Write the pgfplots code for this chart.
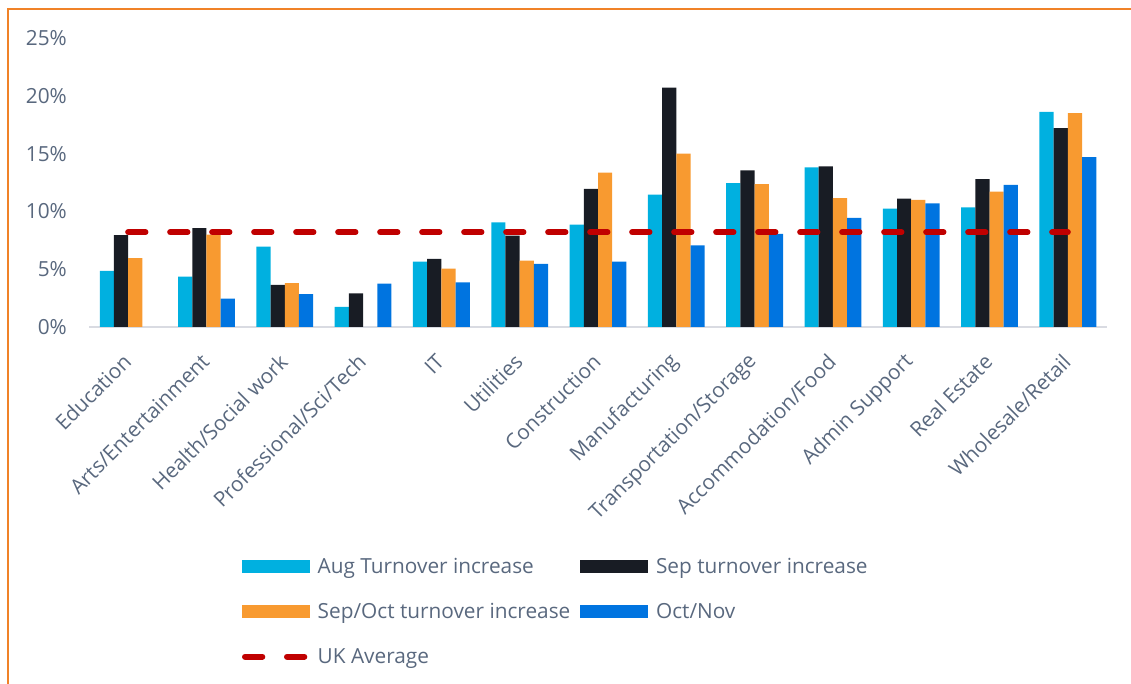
\documentclass[border=0pt]{standalone}
\usepackage{pgfplots}
\pgfplotsset{compat=1.18}
\usepackage{fontspec}
\setmainfont{Open Sans}
\definecolor{cAug}{RGB}{0,176,224}
\definecolor{cSep}{RGB}{24,28,36}
\definecolor{cSepOct}{RGB}{248,154,48}
\definecolor{cOctNov}{RGB}{0,116,224}
\definecolor{cUK}{RGB}{192,0,0}
\definecolor{txt}{RGB}{89,104,126}
\definecolor{framec}{RGB}{240,130,40}
\definecolor{axisgray}{RGB}{217,219,226}
\pgfplotsset{
 swatch/.style={legend image code/.code={\fill[##1] (0pt,-6.5pt) rectangle (68pt,6.5pt);}},
 ukline/.style={legend image code/.code={\draw[##1] (3pt,0pt) -- (63pt,0pt);}},
}
\begin{document}
\begin{tikzpicture}[font=\fontsize{20.8}{25}\selectfont]
\useasboundingbox (0,0) rectangle (1131pt,684pt);
\draw[framec, line width=2pt] (8.3pt,-2pt) -- (8.3pt,675.3pt) -- (1131pt,675.3pt);
\begin{axis}[
 scale only axis, width=1018pt, height=289pt,
 at={(89pt,357pt)}, anchor=south west,
 xmin=-0.5, xmax=12.5, ymin=0, ymax=25,
 axis x line*=bottom, axis y line*=left,
 x axis line style={draw=axisgray, line width=2pt},
 y axis line style={draw=none},
 major tick length=0pt,
 xtick={0,...,12},
 xticklabels={Education,Arts/Entertainment,Health/Social work,Professional/Sci/Tech,IT,Utilities,Construction,Manufacturing,Transportation/Storage,Accommodation/Food,Admin Support,Real Estate,Wholesale/Retail},
 ytick={0,5,...,25},
 yticklabels={0\%,5\%,10\%,15\%,20\%,25\%},
 ticklabel style={font=\fontsize{20.8}{25}\selectfont, text=txt},
 yticklabel style={inner sep=0pt, xshift=-22pt, anchor=east},
 xticklabel style={inner sep=0pt, xshift=-1pt, yshift=-31pt, rotate=45, anchor=east},
 legend columns=2,
 legend cell align=left,
 legend style={draw=none, fill=none, at={(0.1503,-0.799)}, anchor=north west,
   inner sep=0pt, outer sep=0pt,
   nodes={inner sep=0pt, text=txt, font=\fontsize{20.8}{25}\selectfont},
   /tikz/row sep=28.5pt,
   /tikz/every odd column/.append style={column sep=7.7pt},
   /tikz/every even column/.append style={column sep=10pt}},
]
\addplot[ybar, bar width=14.2pt, bar shift=-21.3pt, fill=cAug, draw=none, swatch] coordinates {
 (0,4.85) (1,4.35) (2,6.95) (3,1.75) (4,5.65) (5,9.05) (6,8.85) (7,11.45) (8,12.45) (9,13.8) (10,10.25) (11,10.35) (12,18.6)};
\addlegendentry{Aug Turnover increase}
\addplot[ybar, bar width=14.2pt, bar shift=-7.1pt, fill=cSep, draw=none, swatch] coordinates {
 (0,7.95) (1,8.55) (2,3.65) (3,2.9) (4,5.9) (5,7.9) (6,11.95) (7,20.7) (8,13.55) (9,13.9) (10,11.1) (11,12.8) (12,17.2)};
\addlegendentry{Sep turnover increase}
\addplot[ybar, bar width=14.2pt, bar shift=7.1pt, fill=cSepOct, draw=none, swatch] coordinates {
 (0,5.95) (1,8.0) (2,3.8) (4,5.05) (5,5.75) (6,13.35) (7,15.0) (8,12.35) (9,11.15) (10,11.0) (11,11.7) (12,18.5)};
\addlegendentry{Sep/Oct turnover increase}
\addplot[ybar, bar width=14.2pt, bar shift=21.3pt, fill=cOctNov, draw=none, swatch] coordinates {
 (1,2.45) (2,2.85) (3,3.75) (4,3.85) (5,5.45) (6,5.65) (7,7.05) (8,8.05) (9,9.45) (10,10.7) (11,12.3) (12,14.7)};
\addlegendentry{Oct/Nov}
\addplot[cUK, mark=none, line width=6pt, line cap=round, dash pattern=on 17.3pt off 24.7pt, ukline] coordinates {(0,8.2) (12,8.2)};
\addlegendentry{UK Average}
\end{axis}
\end{tikzpicture}
\end{document}
